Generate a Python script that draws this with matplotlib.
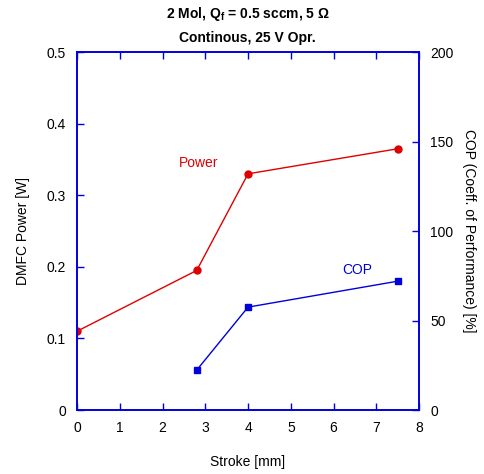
import matplotlib
matplotlib.use("Agg")
import matplotlib.pyplot as plt

plt.rcParams["font.family"] = ["Liberation Sans", "DejaVu Sans"]

# data
stroke_power = [0.0, 2.8, 4.0, 7.5]
power_w = [0.11, 0.195, 0.33, 0.365]

stroke_cop = [2.8, 4.0, 7.5]
cop_pct = [22.3, 57.5, 72.0]

x_ticks = [0, 1, 2, 3, 4, 5, 6, 7, 8]
left_ticks = [0, 0.1, 0.2, 0.3, 0.4, 0.5]
left_labels = ["0", "0.1", "0.2", "0.3", "0.4", "0.5"]
right_ticks = [0, 50, 100, 150, 200]

RED = "#e00000"
BLUE = "#0000dd"

fig = plt.figure(figsize=(4.84, 4.74), dpi=100)
ax = fig.add_axes([0.159, 0.135, 0.707, 0.755])
ax2 = ax.twinx()

ax.plot(stroke_power, power_w, color=RED, marker="o", markersize=5, linewidth=1.0)
ax2.plot(stroke_cop, cop_pct, color=BLUE, marker="s", markersize=5, linewidth=1.0)

ax.set_xlim(0, 8)
ax.set_ylim(0, 0.5)
ax2.set_ylim(0, 200)

ax.set_xticks(x_ticks)
ax.set_yticks(left_ticks)
ax.set_yticklabels(left_labels)
ax2.set_yticks(right_ticks)

for a in (ax, ax2):
    for s in a.spines.values():
        s.set_color(BLUE)
        s.set_linewidth(1.2)

ax.tick_params(axis="x", direction="in", top=True, color=BLUE, length=5,
               width=1, labelsize=10, pad=8)
ax.tick_params(axis="y", direction="in", color=BLUE, length=5, width=1,
               labelsize=10, pad=8)
ax2.tick_params(axis="y", direction="in", color=BLUE, length=5, width=1,
                labelsize=10, pad=8)

ax.set_xlabel("Stroke [mm]", fontsize=10, labelpad=14)
ax.set_ylabel("DMFC Power [W]", fontsize=10, labelpad=12)
ax2.set_ylabel("COP (Coeff. of Performance) [%]", fontsize=10,
               rotation=270, labelpad=16)

ax.text(2.85, 0.345, "Power", color=RED, fontsize=10, ha="center", va="center")
ax.text(6.55, 0.196, "COP", color=BLUE, fontsize=10, ha="center", va="center")

fig.text(0.512, 0.970, r"2 Mol, Q$_\mathregular{f}$ = 0.5 sccm, 5 Ω",
         ha="center", va="center", fontsize=10, fontweight="bold")
fig.text(0.512, 0.920, "Continous, 25 V Opr.", ha="center", va="center",
         fontsize=10, fontweight="bold")

fig.savefig("out.png", dpi=100)
